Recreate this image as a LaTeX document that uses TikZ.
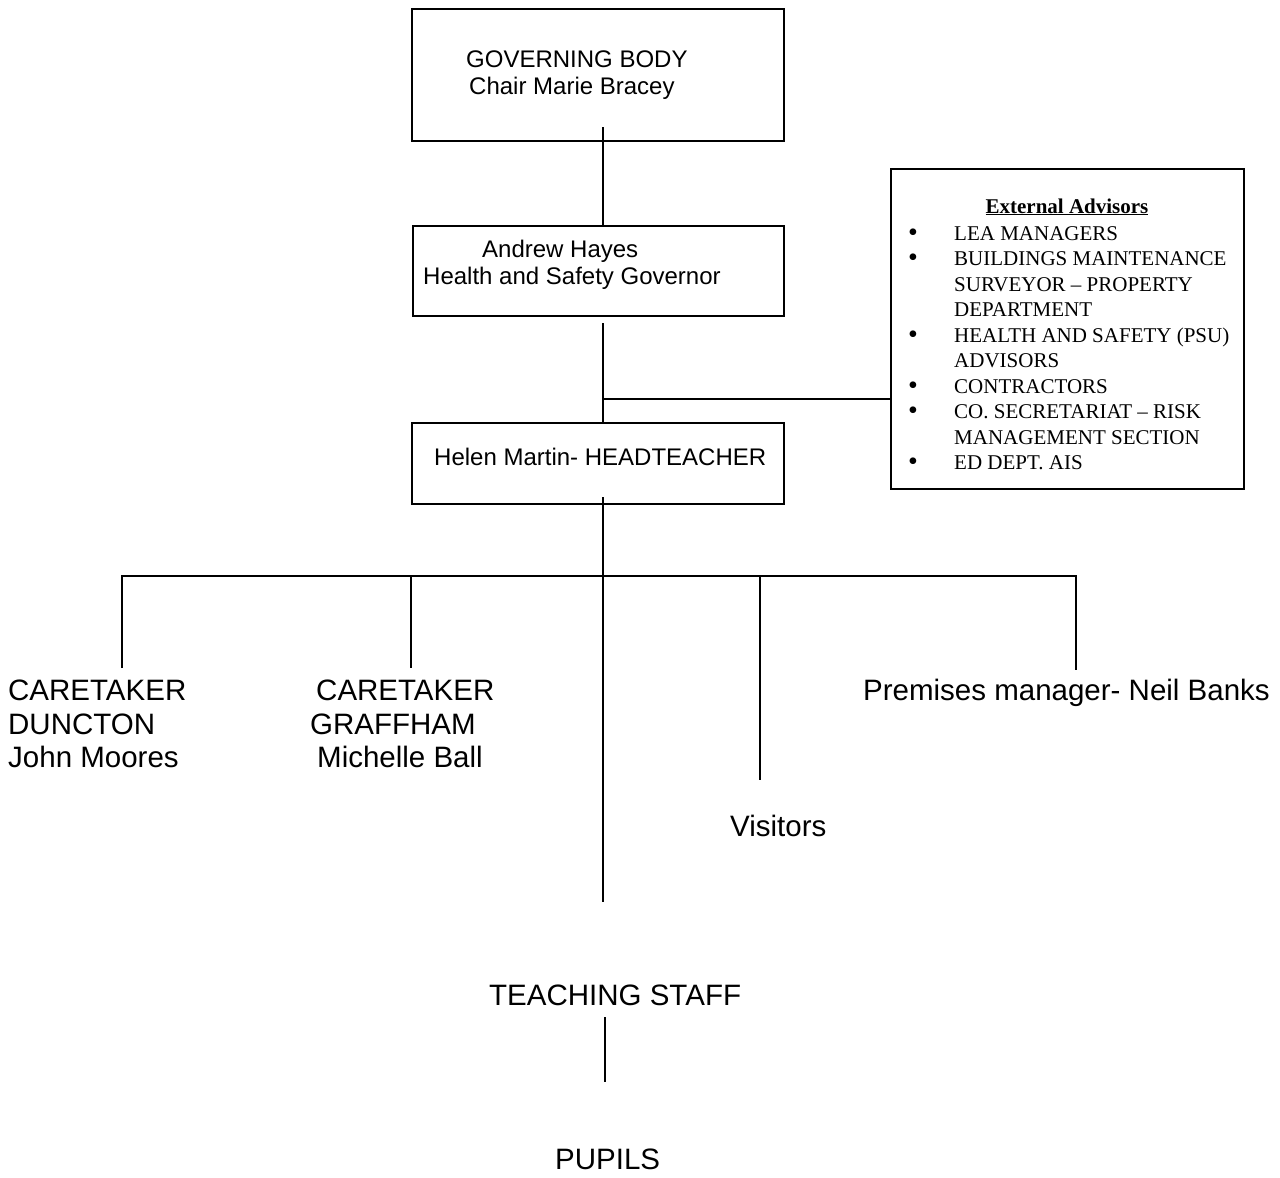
\documentclass[tikz,border=0pt]{standalone}
\usepackage{fontspec}
\setmainfont{Liberation Sans}
\newfontfamily\timesf{Liberation Serif}
\begin{document}
\begin{tikzpicture}[x=1pt,y=-1pt,
  conn/.style={draw, line width=1.4pt},
  box/.style={draw, line width=1.8pt, inner sep=0pt, anchor=north west},
  lbl/.style={anchor=base west, inner sep=0pt, font=\fontsize{24}{27}\selectfont},
  big/.style={anchor=base west, inner sep=0pt, font=\fontsize{29.5}{34}\selectfont},
  ext/.style={anchor=base west, inner sep=0pt, font=\timesf\fontsize{21}{25}\selectfont},
  bul/.style={anchor=base, inner sep=0pt, font=\timesf\fontsize{28}{28}\selectfont},
]
\useasboundingbox (0,0) rectangle (1280,1178);
% boxes
\node[box, minimum width=372pt, minimum height=132pt] (gov) at (411,8) {};
\node[box, minimum width=371pt, minimum height=90pt] (hs) at (412,225) {};
\node[box, minimum width=372pt, minimum height=81pt] (head) at (411,422) {};
\node[box, minimum width=353pt, minimum height=320pt] (extbox) at (890,168) {};
% box texts
\node[lbl] (govt1) at (466,67) {GOVERNING BODY};
\node[lbl] (govt2) at (469,94) {Chair Marie Bracey};
\node[lbl] (hst1) at (482,257) {Andrew Hayes};
\node[lbl] (hst2) at (423,284) {Health and Safety Governor};
\node[lbl] (headt) at (434,465) {Helen Martin- HEADTEACHER};
% external advisors
\node[anchor=base, inner sep=0pt, font=\timesf\bfseries\fontsize{21}{25}\selectfont] (exth) at (1067,213) {\underline{External Advisors}};
\foreach \i/\t/\b in {0/LEA MANAGERS/1, 1/BUILDINGS MAINTENANCE/1, 2/SURVEYOR – PROPERTY/0, 3/DEPARTMENT/0, 4/HEALTH AND SAFETY (PSU)/1, 5/ADVISORS/0, 6/CONTRACTORS/1, 7/CO. SECRETARIAT – RISK/1, 8/MANAGEMENT SECTION/0, 9/ED DEPT. AIS/1}{
  \node[ext] (ext\i) at (954,240+25.5*\i) {\t};
  \ifnum\b=1
    \node[bul] (bul\i) at (913,241+25.5*\i) {\smash{•}};
  \fi
}
% lower labels
\node[big] (ct1a) at (8,700) {CARETAKER};
\node[big] (ct1b) at (8,734) {DUNCTON};
\node[big] (ct1c) at (8,767) {John Moores};
\node[big] (ct2a) at (316,700) {CARETAKER};
\node[big] (ct2b) at (310,734) {GRAFFHAM};
\node[big] (ct2c) at (317,767) {Michelle Ball};
\node[big] (prem) at (863,700) {Premises manager- Neil Banks};
\node[big] (vis) at (730,836) {Visitors};
\node[big] (teach) at (489,1005) {TEACHING STAFF};
\node[big] (pup) at (555,1169) {PUPILS};
% coordinates
\coordinate (g1) at (603,127);
\coordinate (h1) at (603,323);
\coordinate (br) at (603,399);
\coordinate (hd1) at (603,497);
\coordinate (hd2) at (603,902);
\coordinate (busL) at (122,576);
\coordinate (busR) at (1076,576);
\coordinate (b2) at (411,576);
\coordinate (b3) at (760,576);
\coordinate (e1) at (122,668);
\coordinate (e2) at (411,668);
\coordinate (e3) at (760,780);
\coordinate (e4) at (1076,670);
\coordinate (t1) at (605,1017);
\coordinate (t2) at (605,1082);
% connectors
\draw[conn] (g1) -- (g1 |- hs.north);
\draw[conn] (h1) -- (h1 |- head.north);
\draw[conn] (br) -- (br -| extbox.west);
\draw[conn] (hd1) -- (hd2);
\draw[conn] (e1) -- (busL) -- (busR) -- (e4);
\draw[conn] (b2) -- (e2);
\draw[conn] (b3) -- (e3);
\draw[conn] (t1) -- (t2);
\end{tikzpicture}
\end{document}
